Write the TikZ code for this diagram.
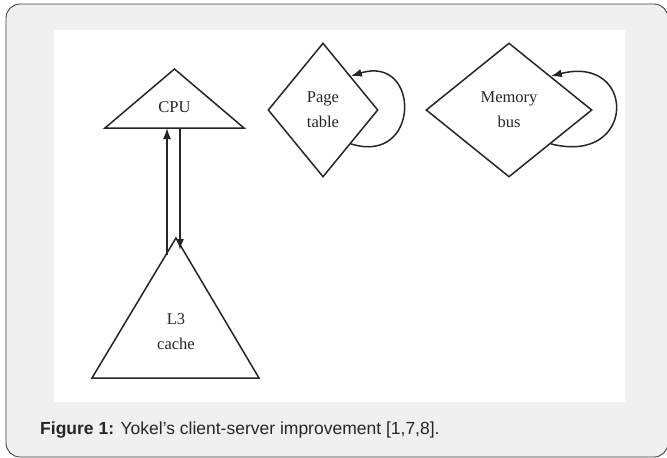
\documentclass[tikz,border=0pt]{standalone}
\usepackage{fontspec}
\setmainfont{Liberation Serif}
\newfontfamily\capfont{Liberation Sans}
\usetikzlibrary{arrows.meta, positioning, shapes, calc}

\begin{document}
\begin{tikzpicture}[x=1pt,y=-1pt,
		line/.style={draw=black!85, line width=1.5pt},
		link/.style={line, -{Latex[length=11pt,width=8pt]}},
		label/.style={font=\fontsize{16.5}{25}\selectfont, align=center, inner sep=0pt, text=black!85},
		choice/.style={diamond, line, label, minimum width=#1, minimum height=134pt}]
			\useasboundingbox (0,0) rectangle (667,458);
			% frame and panel
			\draw[draw=black!75, fill=black!6, line width=0.9pt, rounded corners=14pt] (6,4) rectangle (668,457);
			\fill[white] (54,30) rectangle (625,402);
			% the two triangles
			\coordinate (cputop) at (174.5,69);
			\coordinate (cpuleft) at (105,128);
			\coordinate (cpuright) at (244,128);
			\draw[line] (cpuleft) -- (cputop) -- (cpuright) -- cycle;
			\node[label] (cpu) at (174.5,107) {CPU};
			\coordinate (l3top) at (176,238);
			\coordinate (l3left) at (92,378);
			\coordinate (l3right) at (259,378);
			\draw[line] (l3left) -- (l3top) -- (l3right) -- cycle;
			\node[label] (l3) at (176,332) {L3\\cache};
			% the two diamonds
			\node[choice=110pt] (page) at (323,110) {Page\\table};
			\node[choice=166pt] (mem) at (509,110) {Memory\\bus};
			% links between cpu and cache
			\coordinate (upfrom) at (167,255);
			\coordinate (upto) at (167,128);
			\coordinate (downfrom) at (180,128);
			\coordinate (downto) at (180,250);
			\draw[link] (upfrom) -- (upto);
			\draw[link] (downfrom) -- (downto);
			% self loops
			\draw[link] (page.south east) .. controls +(70,22) and +(70,-22) .. (page.north east);
			\draw[link] (mem.south east) .. controls +(86,22) and +(86,-22) .. (mem.north east);
			% caption
			\node[anchor=west, font=\capfont\fontsize{17.5}{21}\selectfont, text=black!85, inner sep=0pt] (caption) at (40,430)
				{\textbf{Figure 1:} Yokel’s client-server improvement [1,7,8].};
		\end{tikzpicture}
\end{document}
